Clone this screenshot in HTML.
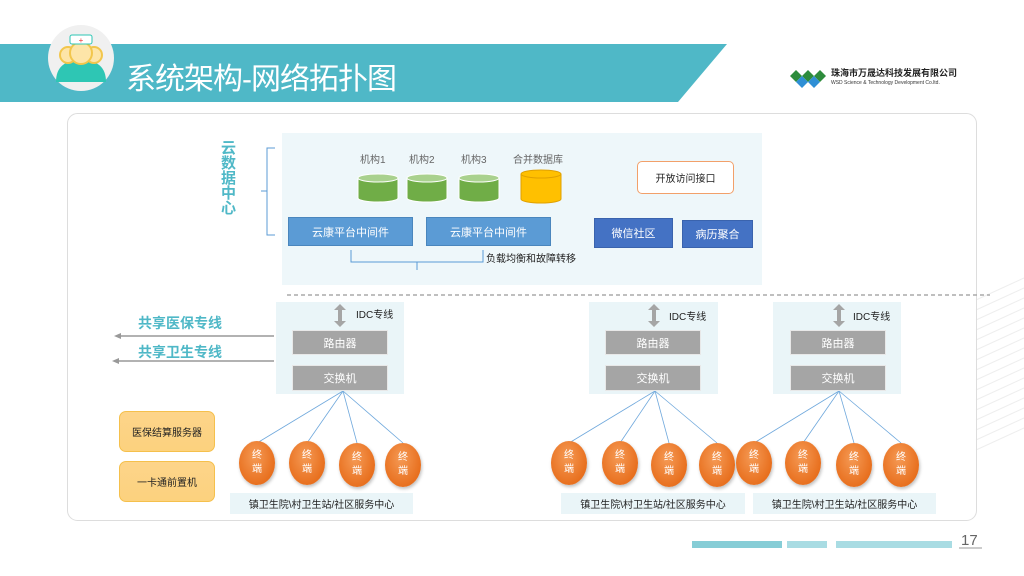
<!DOCTYPE html>
<html><head><meta charset="utf-8"><style>
*{margin:0;padding:0;box-sizing:border-box}
body{width:1024px;height:576px;overflow:hidden;background:#fff;position:relative;font-family:"Liberation Sans","Noto Sans CJK SC",sans-serif}
.a{position:absolute}
.c{display:flex;align-items:center;justify-content:center;text-align:center}
.gray{background:#a5a5a5;color:#fff;font-size:11px;border:1px solid #e8e8e8}
.lb{background:#eaf5f8;font-size:10px;color:#222}
.blue{background:#5b9bd5;color:#fff;font-size:11px;border:1px solid #4a86bd}
.dblue{background:#4472c4;color:#fff;font-size:11px;border:1px solid #3a63ad}
.term{width:36px;height:44px;border-radius:50%;background:radial-gradient(ellipse at 45% 35%,#f59a55,#e8701f 70%,#d9621a);color:#fff;font-size:10px;line-height:14px;box-shadow:1px 2px 3px rgba(0,0,0,.25)}
.ob{background:linear-gradient(#fdd48a,#fcd27e);border:1px solid #f5c04c;border-radius:7px;font-size:10px;color:#222}
.lab{font-size:10px;color:#666}
</style></head><body>
<svg class="a" style="left:0;top:0" width="1024" height="576">
<polygon points="0,44 727,44 678,102 0,102" fill="#4fb8c7"/>
<g stroke="#eee" stroke-width="1">
<line x1="976" y1="300" x2="1024" y2="278"/><line x1="976" y1="310" x2="1024" y2="288"/><line x1="976" y1="320" x2="1024" y2="298"/><line x1="976" y1="330" x2="1024" y2="308"/><line x1="976" y1="340" x2="1024" y2="318"/><line x1="976" y1="350" x2="1024" y2="328"/><line x1="976" y1="360" x2="1024" y2="338"/><line x1="976" y1="370" x2="1024" y2="348"/><line x1="976" y1="380" x2="1024" y2="358"/><line x1="976" y1="390" x2="1024" y2="368"/><line x1="976" y1="400" x2="1024" y2="378"/><line x1="976" y1="410" x2="1024" y2="388"/><line x1="976" y1="420" x2="1024" y2="398"/><line x1="976" y1="430" x2="1024" y2="408"/><line x1="976" y1="440" x2="1024" y2="418"/><line x1="976" y1="450" x2="1024" y2="428"/>
</g>
<circle cx="81" cy="58" r="33" fill="#f0f0f0"/>
<path d="M56 82 q0-22 25-22 q25 0 25 22 z" fill="#2ec6b4"/>
<circle cx="68" cy="55" r="8" fill="#fde5a8" stroke="#f2c64c" stroke-width="2"/>
<circle cx="94" cy="55" r="8" fill="#fde5a8" stroke="#f2c64c" stroke-width="2"/>
<circle cx="81" cy="53" r="11" fill="#fde5a8" stroke="#f2c64c" stroke-width="2"/>
<rect x="70" y="35" width="22" height="9" rx="2" fill="#fff" stroke="#2ec6b4"/>
<text x="81" y="43" font-size="8" fill="#e33" text-anchor="middle">+</text>
<g><polygon points="796,70 802,76 796,82 790,76" fill="#2d8c3c"/><polygon points="808,70 814,76 808,82 802,76" fill="#2d8c3c"/><polygon points="820,70 826,76 820,82 814,76" fill="#2d8c3c"/>
<polygon points="802,76 808,82 802,88 796,82" fill="#2f8fd5"/><polygon points="814,76 820,82 814,88 808,82" fill="#2f8fd5"/></g>
<rect x="67.5" y="113.5" width="909" height="407" rx="10" fill="none" stroke="#ddd"/>
<rect x="282" y="133" width="480" height="152" fill="#eef7fa"/>
<path d="M275 148 h-8 v43 h-6 h6 v44 h8" fill="none" stroke="#5b9bd5" stroke-width="1"/>
<g fill="#70ad47" stroke="#fff" stroke-width="1">
<path d="M358 178 v20 a20 4 0 0 0 40 0 v-20"/><ellipse cx="378" cy="178" rx="20" ry="4" fill="#a9d18e"/>
<path d="M407 178 v20 a20 4 0 0 0 40 0 v-20"/><ellipse cx="427" cy="178" rx="20" ry="4" fill="#a9d18e"/>
<path d="M459 178 v20 a20 4 0 0 0 40 0 v-20"/><ellipse cx="479" cy="178" rx="20" ry="4" fill="#a9d18e"/>
</g>
<path d="M521 174 v25 a20 4 0 0 0 40 0 v-25" fill="#ffc000" stroke="#e0a000"/><ellipse cx="541" cy="174" rx="20" ry="4" fill="#ffc000" stroke="#e0a000"/>
<path d="M351 250 v12 h66 v8 v-8 h66 v-12" fill="none" stroke="#5b9bd5"/>
<line x1="287" y1="295" x2="990" y2="295" stroke="#aaa" stroke-width="1.5" stroke-dasharray="4,3"/>
<rect x="276" y="302" width="128" height="92" fill="#eaf5f8"/>
<rect x="589" y="302" width="129" height="92" fill="#eaf5f8"/>
<rect x="773" y="302" width="128" height="92" fill="#eaf5f8"/>
<g fill="#a5a5a5">
<polygon points="340,304 346,310 342,310 342,321 346,321 340,327 334,321 338,321 338,310 334,310"/>
<polygon points="654,304 660,310 656,310 656,321 660,321 654,327 648,321 652,321 652,310 648,310"/>
<polygon points="839,304 845,310 841,310 841,321 845,321 839,327 833,321 837,321 837,310 833,310"/>
</g>
<g stroke="#999" stroke-width="1.5"><line x1="119" y1="336" x2="274" y2="336"/><line x1="117" y1="361" x2="274" y2="361"/></g>
<polygon points="114,336 121,333 121,339" fill="#999"/><polygon points="112,361 119,358 119,364" fill="#999"/>
<g stroke="#6fa8dc" stroke-width="0.8">
<line x1="343" y1="391" x2="257" y2="443"/><line x1="343" y1="391" x2="307" y2="443"/><line x1="343" y1="391" x2="357" y2="443"/><line x1="343" y1="391" x2="403" y2="443"/>
<line x1="655" y1="391" x2="569" y2="443"/><line x1="655" y1="391" x2="620" y2="443"/><line x1="655" y1="391" x2="669" y2="443"/><line x1="655" y1="391" x2="717" y2="443"/>
<line x1="839" y1="391" x2="754" y2="443"/><line x1="839" y1="391" x2="803" y2="443"/><line x1="839" y1="391" x2="854" y2="443"/><line x1="839" y1="391" x2="901" y2="443"/>
</g>
<g fill="#86cdd6"><rect x="692" y="541" width="90" height="7"/></g>
<g fill="#a9dce3"><rect x="787" y="541" width="40" height="7"/><rect x="836" y="541" width="116" height="7"/></g>
<line x1="959" y1="548" x2="982" y2="548" stroke="#999"/>
</svg>
<div class="a" style="left:126px;top:54px;font-size:30px;color:#fff;letter-spacing:-1px">系统架构-网络拓扑图</div>
<div class="a" style="left:831px;top:68px;font-size:9px;line-height:11px;color:#222;font-weight:bold;white-space:nowrap">珠海市万晟达科技发展有限公司</div>
<div class="a" style="left:831px;top:80px;font-size:5px;line-height:6px;color:#333;white-space:nowrap">WSD Science &amp; Technology Development Co.ltd.</div>
<div class="a" style="left:221px;top:141px;width:17px;font-size:15px;line-height:15px;font-weight:bold;color:#4fb8c7">云数据中心</div>
<div class="a lab" style="left:360px;top:151px">机构1</div>
<div class="a lab" style="left:409px;top:151px">机构2</div>
<div class="a lab" style="left:461px;top:151px">机构3</div>
<div class="a lab" style="left:513px;top:151px">合并数据库</div>
<div class="a c" style="left:637px;top:161px;width:97px;height:33px;border:1px solid #f2a06a;border-radius:5px;background:#fff;font-size:10px;color:#222">开放访问接口</div>
<div class="a c blue" style="left:288px;top:217px;width:125px;height:29px">云康平台中间件</div>
<div class="a c blue" style="left:426px;top:217px;width:125px;height:29px">云康平台中间件</div>
<div class="a c dblue" style="left:594px;top:218px;width:79px;height:30px">微信社区</div>
<div class="a c dblue" style="left:682px;top:220px;width:71px;height:28px">病历聚合</div>
<div class="a" style="left:486px;top:250px;font-size:10px;color:#222">负载均衡和故障转移</div>
<div class="a" style="left:138px;top:313px;font-size:14px;font-weight:bold;color:#4fb8c7">共享医保专线</div>
<div class="a" style="left:138px;top:342px;font-size:14px;font-weight:bold;color:#4fb8c7">共享卫生专线</div>
<div class="a" style="left:356px;top:306px;font-size:10px;color:#222">IDC专线</div>
<div class="a" style="left:669px;top:308px;font-size:10px;color:#222">IDC专线</div>
<div class="a" style="left:853px;top:308px;font-size:10px;color:#222">IDC专线</div>
<div class="a c gray" style="left:292px;top:330px;width:96px;height:25px">路由器</div>
<div class="a c gray" style="left:292px;top:365px;width:96px;height:26px">交换机</div>
<div class="a c gray" style="left:605px;top:330px;width:96px;height:25px">路由器</div>
<div class="a c gray" style="left:605px;top:365px;width:96px;height:26px">交换机</div>
<div class="a c gray" style="left:790px;top:330px;width:96px;height:25px">路由器</div>
<div class="a c gray" style="left:790px;top:365px;width:96px;height:26px">交换机</div>
<div class="a c ob" style="left:119px;top:411px;width:96px;height:41px">医保结算服务器</div>
<div class="a c ob" style="left:119px;top:461px;width:96px;height:41px">一卡通前置机</div>
<div class="a c term" style="left:239px;top:441px">终<br>端</div>
<div class="a c term" style="left:289px;top:441px">终<br>端</div>
<div class="a c term" style="left:339px;top:443px">终<br>端</div>
<div class="a c term" style="left:385px;top:443px">终<br>端</div>
<div class="a c term" style="left:551px;top:441px">终<br>端</div>
<div class="a c term" style="left:602px;top:441px">终<br>端</div>
<div class="a c term" style="left:651px;top:443px">终<br>端</div>
<div class="a c term" style="left:699px;top:443px">终<br>端</div>
<div class="a c term" style="left:736px;top:441px">终<br>端</div>
<div class="a c term" style="left:785px;top:441px">终<br>端</div>
<div class="a c term" style="left:836px;top:443px">终<br>端</div>
<div class="a c term" style="left:883px;top:443px">终<br>端</div>
<div class="a c lb" style="left:230px;top:493px;width:183px;height:21px">镇卫生院\村卫生站/社区服务中心</div>
<div class="a c lb" style="left:561px;top:493px;width:184px;height:21px">镇卫生院\村卫生站/社区服务中心</div>
<div class="a c lb" style="left:753px;top:493px;width:183px;height:21px">镇卫生院\村卫生站/社区服务中心</div>
<div class="a" style="left:961px;top:532px;font-size:15px;color:#666">17</div>
</body></html>
